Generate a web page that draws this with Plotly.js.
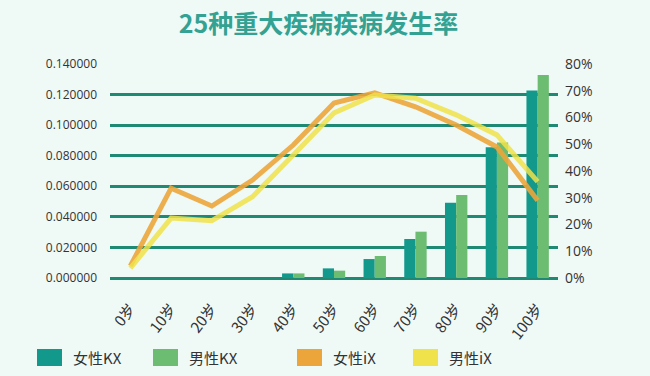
<!DOCTYPE html>
<html><head><meta charset="utf-8">
<script src="https://cdn.plot.ly/plotly-3.0.1.min.js"></script>
<style>html,body{margin:0;padding:0;background:#effaf7;}#chart{width:650px;height:376px;}</style>
</head><body><div id="chart"></div>
<script>
var categories = ['0岁','10岁','20岁','30岁','40岁','50岁','60岁','70岁','80岁','90岁','100岁'];
var femaleKX = [0, 0, 0, 0, 0.0030, 0.0063, 0.0124, 0.0255, 0.0493, 0.0855, 0.1226];
var maleKX   = [0, 0, 0, 0, 0.0030, 0.0048, 0.0144, 0.0303, 0.0543, 0.0886, 0.1328];
var femaleIX = [0.045, 0.336, 0.269, 0.366, 0.497, 0.654, 0.692, 0.640, 0.572, 0.490, 0.290];
var maleIX   = [0.037, 0.224, 0.214, 0.304, 0.460, 0.617, 0.684, 0.672, 0.610, 0.535, 0.360];
var leftTicks = [0, 0.02, 0.04, 0.06, 0.08, 0.10, 0.12, 0.14];
var rightTicks = [0, 0.1, 0.2, 0.3, 0.4, 0.5, 0.6, 0.7, 0.8];
var seriesNames = ['女性KX','男性KX','女性iX','男性iX'];
var colors = ['#12998c','#6cbc72','#eca53a','#f0e24a'];

var traces = [
  {type:'bar', x:categories, y:femaleKX, name:seriesNames[0], marker:{color:colors[0]}, showlegend:false},
  {type:'bar', x:categories, y:maleKX, name:seriesNames[1], marker:{color:colors[1]}, showlegend:false},
  {type:'scatter', mode:'lines', x:categories, y:femaleIX, name:seriesNames[2], yaxis:'y2',
   line:{color:colors[2], width:5}, opacity:0.9, showlegend:false},
  {type:'scatter', mode:'lines', x:categories, y:maleIX, name:seriesNames[3], yaxis:'y2',
   line:{color:colors[3], width:5}, opacity:0.85, showlegend:false}
];

var legendX = [37, 153, 297, 413];
var shapes = [], annotations = [];
seriesNames.forEach(function(n,i){
  shapes.push({type:'rect', xref:'paper', yref:'paper',
    x0:(legendX[i]-110)/448, x1:(legendX[i]-110+25)/448,
    y0:(278-366)/214, y1:(278-349)/214, fillcolor:colors[i], line:{width:0}});
  annotations.push({xref:'paper', yref:'paper', x:(legendX[i]-110+34)/448, y:(278-357)/214,
    xanchor:'left', yanchor:'middle', text:n, showarrow:false,
    font:{family:'Noto Sans CJK SC, sans-serif', size:15, color:'#333333'}});
});

var layout = {
  width:650, height:376,
  margin:{l:110, r:92, t:64, b:98, pad:0},
  paper_bgcolor:'#effaf7', plot_bgcolor:'#effaf7',
  title:{text:'25种重大疾病疾病发生率', x:0.49, xanchor:'center', y:0.935, yanchor:'middle',
    font:{family:'Noto Sans CJK SC, sans-serif', size:25, color:'#34a292', weight:'bold'}},
  barmode:'group', bargap:0.45, bargroupgap:0,
  showlegend:false,
  xaxis:{type:'category', range:[-0.5,10.5], tickangle:-52, showgrid:false, zeroline:false,
    showline:false, ticks:'', ticklabelstandoff:18,
    tickfont:{family:'Noto Sans CJK SC, sans-serif', size:15, color:'#333'}},
  yaxis:{range:[0,0.14], tickvals:leftTicks, tickformat:'.6f', showgrid:true,
    gridcolor:'#1f8a73', gridwidth:3, zeroline:true, zerolinecolor:'#1f8a73', zerolinewidth:3,
    showline:false, ticks:'', ticklabelstandoff:12,
    tickfont:{family:'Open Sans, sans-serif', size:12, color:'#333'}},
  yaxis2:{overlaying:'y', side:'right', range:[0,0.8], tickvals:rightTicks, tickformat:'.0%',
    showgrid:false, zeroline:false, showline:false, ticks:'', ticklabelstandoff:6,
    tickfont:{family:'Open Sans, sans-serif', size:14, color:'#333'}},
  shapes:shapes, annotations:annotations
};
Plotly.newPlot('chart', traces, layout, {displayModeBar:false, staticPlot:true});
</script></body></html>
